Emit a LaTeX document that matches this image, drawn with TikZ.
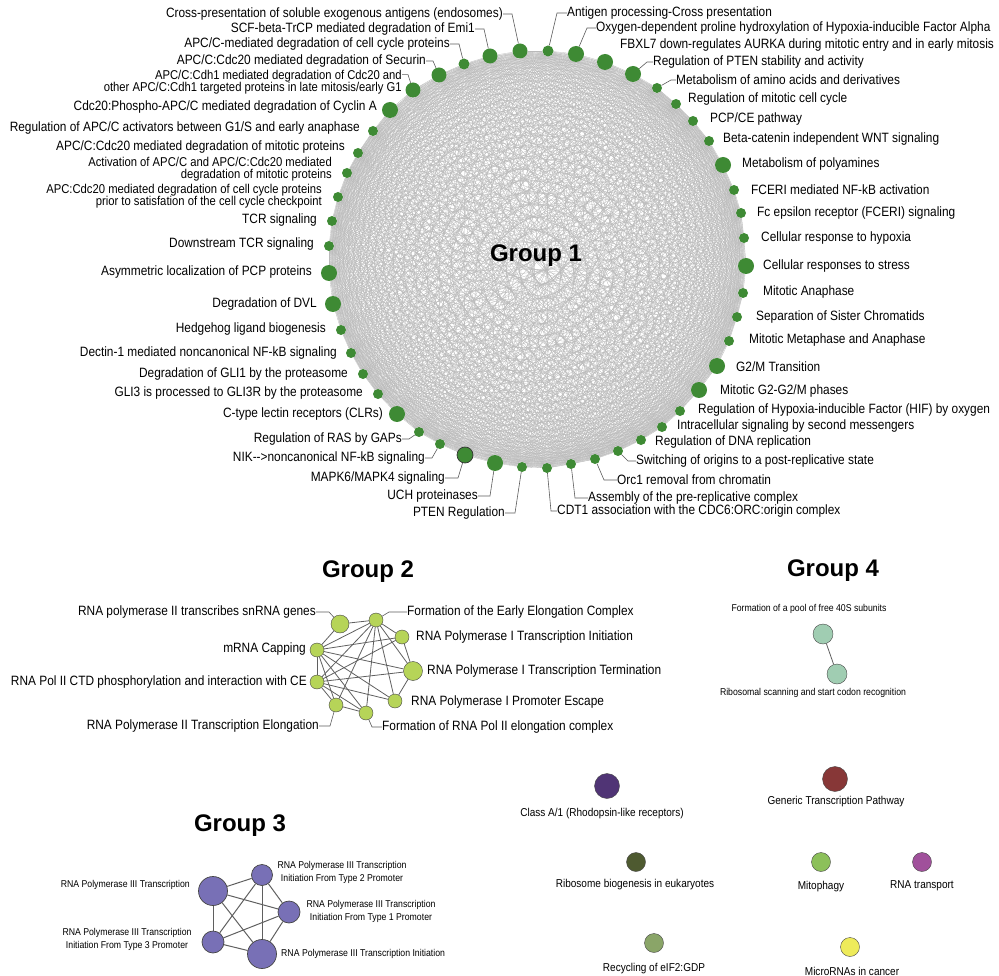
\documentclass[tikz,border=0pt]{standalone}
\usepackage{fontspec}
\setmainfont{Liberation Sans}
\newfontfamily\narrowsans[FakeStretch=0.88]{Liberation Sans}
\usetikzlibrary{backgrounds}

\definecolor{nodegreen}{RGB}{62,138,52}
\definecolor{webgray}{RGB}{185,185,185}
\definecolor{leadgray}{RGB}{90,90,90}
\definecolor{linkgray}{RGB}{95,95,95}
\definecolor{rimgray}{RGB}{70,70,70}
\definecolor{limegreen}{RGB}{182,212,88}
\definecolor{lavender}{RGB}{120,112,182}
\definecolor{seafoam}{RGB}{160,205,178}
\definecolor{plum}{RGB}{80,52,117}
\definecolor{brick}{RGB}{135,55,55}
\definecolor{olive}{RGB}{78,90,48}
\definecolor{leaf}{RGB}{140,192,90}
\definecolor{orchid}{RGB}{160,80,155}
\definecolor{sage}{RGB}{138,165,104}
\definecolor{lemon}{RGB}{238,235,90}

\begin{document}
\begin{tikzpicture}[
    x=1pt, y=-1pt,
    gone/.style={circle, fill=nodegreen, inner sep=0pt},
    gtwo/.style={circle, draw=rimgray, fill=limegreen, inner sep=0pt, minimum size=14},
    gthree/.style={circle, draw=rimgray, fill=lavender, inner sep=0pt, line width=0.7pt},
    gfour/.style={circle, draw=rimgray, fill=seafoam, inner sep=0pt, minimum size=20},
    single/.style={circle, draw=rimgray, inner sep=0pt, minimum size=19},
    glabel/.style={inner sep=0pt, align=right, font=\narrowsans\fontsize{13.5}{13}\selectfont},
    twoline/.style={glabel, font=\narrowsans\fontsize{12.8}{12.3}\selectfont},
    slabel/.style={inner sep=0pt, align=center, font=\narrowsans\fontsize{9.9}{13}\selectfont},
    plabel/.style={inner sep=0pt, align=center, font=\narrowsans\fontsize{11.4}{13}\selectfont},
    title/.style={inner sep=0pt, font=\fontsize{24}{24}\selectfont\bfseries},
    lead/.style={draw=leadgray, line width=0.6pt},
    web/.style={draw=webgray, line width=0.3pt},
    link/.style={draw=linkgray, line width=0.8pt}
]
\useasboundingbox (0,0) rectangle (999,976);

% Group 1: ring of pathways
\foreach \i/\x/\y/\r in {1/520/51/7.5, 2/548/51/5.5, 3/576/54/8, 4/605/62/8, 5/633/74/8,
    6/657/88/5, 7/676/104/5, 8/693/121/5, 9/709/141/5, 10/723/165/8, 11/734/190/5,
    12/741/213/5, 13/744/238/5, 14/746/266/8, 15/743/293/5, 16/737/317/5, 17/729/341/5,
    18/717/366/8, 19/699/390/8, 20/680/411/5, 21/662/427/5, 22/641/440/5, 23/618/451/5,
    24/595/459/5, 25/571/464/5, 26/547/468/5, 27/522/467/5, 28/495/463/8,
    30/440/444/5, 31/419/432/5, 32/397/414/8, 33/378/394/5, 34/363/374/5, 35/351/353/5,
    36/341/330/5, 37/333/304/8, 38/329/273/8, 39/329/246/5, 40/332/221/5, 41/338/197/5,
    42/347/173/5, 43/358/153/5, 44/373/131/5, 45/390/110/8, 46/413/90/7.5, 47/439/75/7.5,
    48/464/64/5.5, 49/490/56/7.5}
  \node[gone, minimum size=2*\r] (a\i) at (\x,\y) {};
\node[gone, draw=black!80, line width=0.7pt, minimum size=16] (a29) at (465,455) {};

% every pathway of group 1 linked to every other
\begin{scope}[on background layer]
  \foreach \i in {1,...,48}{
    \pgfmathtruncatemacro{\k}{\i+1}
    \foreach \j in {\k,...,49}
      \draw[web] (a\i) -- (a\j);
  }
\end{scope}

\node[title] (gonetitle) at (536,256) {Group 1};

% Group 1 labels, right half
\node[glabel, anchor=east] (l1) at (503,14) {Cross-presentation of soluble exogenous antigens (endosomes)};
\node[glabel, anchor=west] (l2) at (567,13) {Antigen processing-Cross presentation};
\node[glabel, anchor=west] (l3) at (596,28) {Oxygen-dependent proline hydroxylation of Hypoxia-inducible Factor Alpha};
\node[glabel, anchor=west] (l4) at (620,45) {FBXL7 down-regulates AURKA during mitotic entry and in early mitosis};
\node[glabel, anchor=west] (l5) at (653,62) {Regulation of PTEN stability and activity};
\node[glabel, anchor=west] (l6) at (676,80) {Metabolism of amino acids and derivatives};
\node[glabel, anchor=west] (l7) at (688,99) {Regulation of mitotic cell cycle};
\node[glabel, anchor=west] (l8) at (710,119) {PCP/CE pathway};
\node[glabel, anchor=west] (l9) at (723,139) {Beta-catenin independent WNT signaling};
\node[glabel, anchor=west] (l10) at (742,164) {Metabolism of polyamines};
\node[glabel, anchor=west] (l11) at (751,190) {FCERI mediated NF-kB activation};
\node[glabel, anchor=west] (l12) at (757,213) {Fc epsilon receptor (FCERI) signaling};
\node[glabel, anchor=west] (l13) at (761,238) {Cellular response to hypoxia};
\node[glabel, anchor=west] (l14) at (763,266) {Cellular responses to stress};
\node[glabel, anchor=west] (l15) at (763,292) {Mitotic Anaphase};
\node[glabel, anchor=west] (l16) at (756,317) {Separation of Sister Chromatids};
\node[glabel, anchor=west] (l17) at (749,340) {Mitotic Metaphase and Anaphase};
\node[glabel, anchor=west] (l18) at (736,367) {G2/M Transition};
\node[glabel, anchor=west] (l19) at (720,391) {Mitotic G2-G2/M phases};
\node[glabel, anchor=west] (l20) at (698,410) {Regulation of Hypoxia-inducible Factor (HIF) by oxygen};
\node[glabel, anchor=west] (l21) at (677,426) {Intracellular signaling by second messengers};
\node[glabel, anchor=west] (l22) at (655,442) {Regulation of DNA replication};
\node[glabel, anchor=west] (l23) at (636,461) {Switching of origins to a post-replicative state};
\node[glabel, anchor=west] (l24) at (617,480) {Orc1 removal from chromatin};
\node[glabel, anchor=west] (l25) at (588,498) {Assembly of the pre-replicative complex};
\node[glabel, anchor=west] (l26) at (557,511) {CDT1 association with the CDC6:ORC:origin complex};

% Group 1 labels, left half
\node[glabel, anchor=east] (l27) at (505,513) {PTEN Regulation};
\node[glabel, anchor=east] (l28) at (478,496) {UCH proteinases};
\node[glabel, anchor=east] (l29) at (445,478) {MAPK6/MAPK4 signaling};
\node[glabel, anchor=east] (l30) at (425,458) {NIK-{}-{}>noncanonical NF-kB signaling};
\node[glabel, anchor=east] (l31) at (402,439) {Regulation of RAS by GAPs};
\node[glabel, anchor=east] (l32) at (383,414) {C-type lectin receptors (CLRs)};
\node[glabel, anchor=east] (l33) at (363,393) {GLI3 is processed to GLI3R by the proteasome};
\node[glabel, anchor=east] (l34) at (348,374) {Degradation of GLI1 by the proteasome};
\node[glabel, anchor=east] (l35) at (337,353) {Dectin-1 mediated noncanonical NF-kB signaling};
\node[glabel, anchor=east] (l36) at (326,329) {Hedgehog ligand biogenesis};
\node[glabel, anchor=east] (l37) at (317,304) {Degradation of DVL};
\node[glabel, anchor=east] (l38) at (312,272) {Asymmetric localization of PCP proteins};
\node[glabel, anchor=east] (l39) at (314,244) {Downstream TCR signaling};
\node[glabel, anchor=east] (l40) at (317,220) {TCR signaling};
\node[twoline, anchor=east] (l41) at (322,196) {APC:Cdc20 mediated degradation of cell cycle proteins\\prior to satisfation of the cell cycle checkpoint};
\node[twoline, anchor=east] (l42) at (332,169) {Activation of APC/C and APC/C:Cdc20 mediated\\degradation of mitotic proteins};
\node[glabel, anchor=east] (l43) at (345,147) {APC/C:Cdc20 mediated degradation of mitotic proteins};
\node[glabel, anchor=east] (l44) at (360,128) {Regulation of APC/C activators between G1/S and early anaphase};
\node[glabel, anchor=east] (l45) at (377,107) {Cdc20:Phospho-APC/C mediated degradation of Cyclin A};
\node[twoline, anchor=east] (l46) at (402,82) {APC/C:Cdh1 mediated degradation of Cdc20 and\\other APC/C:Cdh1 targeted proteins in late mitosis/early G1};
\node[glabel, anchor=east] (l47) at (426,61) {APC/C:Cdc20 mediated degradation of Securin};
\node[glabel, anchor=east] (l48) at (450,44) {APC/C-mediated degradation of cell cycle proteins};
\node[glabel, anchor=east] (l49) at (475,29) {SCF-beta-TrCP mediated degradation of Emi1};

% leader lines
\draw[lead] (l1.east) -- ++(9,0) -- (a1);
\draw[lead] (l2.west) -- ++(-10,0) -- (a2);
\draw[lead] (l3.west) -- ++(-9,0) -- (a3);
\draw[lead] (l5.west) -- ++(-6,0) -- (a5);
\draw[lead] (l6.west) -- ++(-5,0) -- (a6);
\draw[lead] (l23.west) -- ++(-8,0) -- (a23);
\draw[lead] (l24.west) -- ++(-13,0) -- (a24);
\draw[lead] (l25.west) -- ++(-13,0) -- (a25);
\draw[lead] (l26.west) -- ++(-6,0) -- (a26);
\draw[lead] (l27.east) -- ++(10,0) -- (a27);
\draw[lead] (l28.east) -- ++(12,0) -- (a28);
\draw[lead] (l29.east) -- ++(13,0) -- (a29);
\draw[lead] (l30.east) -- ++(7,0) -- (a30);
\draw[lead] (l31.east) -- ++(7,0) -- (a31);
\draw[lead] ([yshift=-5pt]l46.north east) -- ++(6,0) -- (a46);
\draw[lead] (l47.east) -- ++(7,0) -- (a47);
\draw[lead] (l48.east) -- ++(9,0) -- (a48);
\draw[lead] (l49.east) -- ++(9,0) -- (a49);

% Group 2
\node[title] (gtwotitle) at (368,572) {Group 2};
\node[gtwo, minimum size=18] (b1) at (340,624) {};
\node[gtwo] (b2) at (376,620) {};
\node[gtwo] (b3) at (402,637) {};
\node[gtwo, minimum size=19] (b4) at (413,671) {};
\node[gtwo] (b5) at (395,701) {};
\node[gtwo] (b6) at (366,713) {};
\node[gtwo] (b7) at (336,705) {};
\node[gtwo] (b8) at (317,682) {};
\node[gtwo] (b9) at (317,650) {};

\begin{scope}[on background layer]
  \draw[link] (b1) -- (b2);
  \draw[link] (b1) -- (b9);
  \foreach \j in {3,...,9} \draw[link] (b2) -- (b\j);
  \foreach \j in {3,4,5,6,7,8} \draw[link] (b9) -- (b\j);
  \foreach \j in {3,4,5,6,7} \draw[link] (b8) -- (b\j);
  \draw[link] (b7) -- (b6);
  \draw[link] (b3) -- (b4);
  \draw[link] (b4) -- (b5);
\end{scope}

\node[glabel, anchor=east] (m1) at (316,612) {RNA polymerase II transcribes snRNA genes};
\node[glabel, anchor=west] (m2) at (407,612) {Formation of the Early Elongation Complex};
\node[glabel, anchor=west] (m3) at (416,637) {RNA Polymerase I Transcription Initiation};
\node[glabel, anchor=west] (m4) at (427,671) {RNA Polymerase I Transcription Termination};
\node[glabel, anchor=west] (m5) at (411,702) {RNA Polymerase I Promoter Escape};
\node[glabel, anchor=west] (m6) at (382,727) {Formation of RNA Pol II elongation complex};
\node[glabel, anchor=east] (m7) at (319,726) {RNA Polymerase II Transcription Elongation};
\node[glabel, anchor=east] (m8) at (307,682) {RNA Pol II CTD phosphorylation and interaction with CE};
\node[glabel, anchor=east] (m9) at (306,649) {mRNA Capping};
\draw[lead] (m1.east) -- ++(13,0) -- (b1);
\draw[lead] (m2.west) -- ++(-18,0) -- (b2);
\draw[lead] (m6.west) -- ++(-10,0) -- (b6);
\draw[lead] (m7.east) -- ++(11,0) -- (b7);

% Group 3
\node[title] (gthreetitle) at (240,826) {Group 3};
\node[gthree, minimum size=29] (c1) at (213,891) {};
\node[gthree, minimum size=21] (c2) at (262,875) {};
\node[gthree, minimum size=22] (c3) at (289,912) {};
\node[gthree, minimum size=22] (c4) at (213,942) {};
\node[gthree, minimum size=29] (c5) at (262,954) {};
\begin{scope}[on background layer]
  \foreach \i/\j in {1/2,1/3,1/4,1/5,2/3,2/4,2/5,3/4,3/5,4/5}
    \draw[link, line width=1pt] (c\i) -- (c\j);
\end{scope}
\node[slabel, anchor=east] (n1) at (190,885) {RNA Polymerase III Transcription};
\node[slabel] (n2) at (342,872) {RNA Polymerase III Transcription\\Initiation From Type 2 Promoter};
\node[slabel] (n3) at (371,911) {RNA Polymerase III Transcription\\Initiation From Type 1 Promoter};
\node[slabel] (n4) at (127,939) {RNA Polymerase III Transcription\\Initiation From Type 3 Promoter};
\node[slabel, anchor=west] (n5) at (281,954) {RNA Polymerase III Transcription Initiation};

% Group 4
\node[title] (gfourtitle) at (833,571) {Group 4};
\node[gfour] (d1) at (823,634) {};
\node[gfour] (d2) at (837,674) {};
\draw[link] (d1) -- (d2);
\node[slabel] (o1) at (809,609) {Formation of a pool of free 40S subunits};
\node[slabel] (o2) at (813,693) {Ribosomal scanning and start codon recognition};

% single pathways
\node[single, fill=plum, minimum size=25] (e1) at (607,786) {};
\node[single, fill=brick, minimum size=25] (e2) at (835,779) {};
\node[single, fill=olive] (e3) at (636,862) {};
\node[single, fill=leaf] (e4) at (821,862) {};
\node[single, fill=orchid] (e5) at (922,862) {};
\node[single, fill=sage] (e6) at (654,943) {};
\node[single, fill=lemon] (e7) at (850,947) {};
\node[plabel] (p1) at (602,814) {Class A/1 (Rhodopsin-like receptors)};
\node[plabel] (p2) at (836,802) {Generic Transcription Pathway};
\node[plabel] (p3) at (635,885) {Ribosome biogenesis in eukaryotes};
\node[plabel] (p4) at (821,887) {Mitophagy};
\node[plabel] (p5) at (922,886) {RNA transport};
\node[plabel] (p6) at (654,969) {Recycling of eIF2:GDP};
\node[plabel] (p7) at (852,971) {MicroRNAs in cancer};

\end{tikzpicture}
\end{document}
